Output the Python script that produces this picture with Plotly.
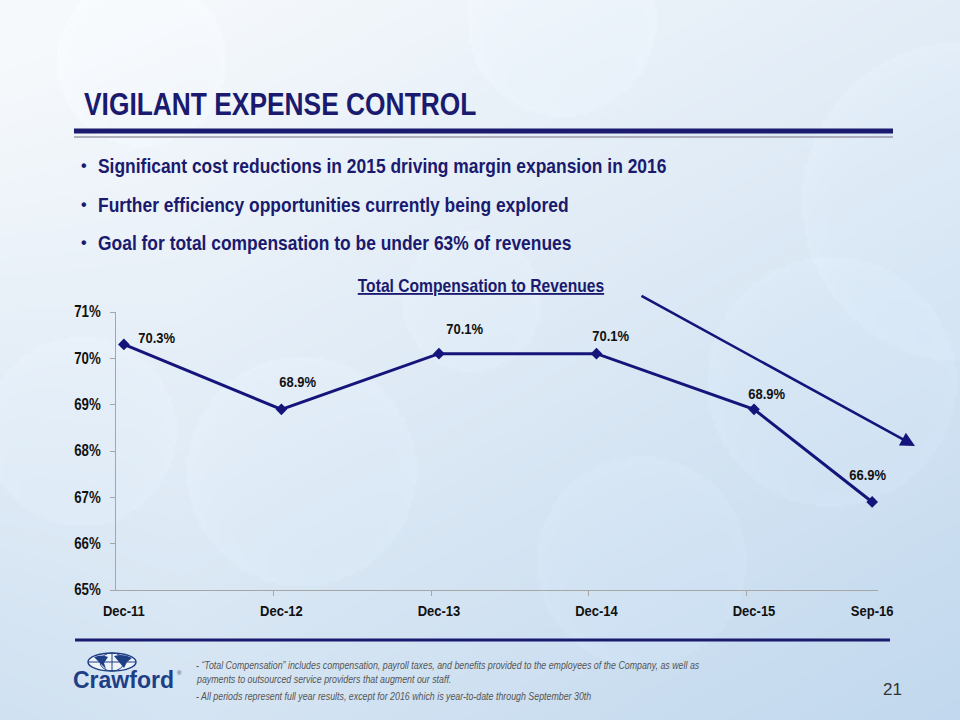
import base64, struct, zlib, math
import plotly.graph_objects as go

# ---------------- data ----------------
periods = ["Dec-11", "Dec-12", "Dec-13", "Dec-14", "Dec-15", "Sep-16"]
years_elapsed = [0, 1, 2, 3, 4, 4.75]          # position in years from Dec-11
comp_pct = [70.3, 68.9, 70.1, 70.1, 68.9, 66.9]
y_ticks = [65, 66, 67, 68, 69, 70, 71]
bullets = [
    "Significant cost reductions in 2015 driving margin expansion in 2016",
    "Further efficiency opportunities currently being explored",
    "Goal for total compensation to be under 63% of revenues",
]
footnotes = [
    "- \u201cTotal Compensation\u201d includes compensation, payroll taxes, and benefits provided to the employees of the Company, as well as",
    "payments to outsourced service providers that augment our staff.",
    "- All periods represent full year results, except for 2016 which is year-to-date through September 30th",
]

# ---------------- style ----------------
W, H = 960, 720
L, R, T, B = 116, 82, 312, 130
PW, PH = W - L - R, H - T - B
NAVY = "#1a1a6e"
LINE = "#14147a"
NARROW = "Liberation Sans Narrow, Arial Narrow, Liberation Sans, Arial, sans-serif"
ARIAL = "Liberation Sans, Arial, sans-serif"
label_offsets = [(33, 7), (17, 28), (26, 25), (15, 18), (13, 16), (-4, 27)]


def px(x):
    return (x - L) / PW


def py(y):
    return (H - B - y) / PH


# ---------------- background image (gradient + soft bubbles) ----------------
def make_bg(w=320, h=240):
    s = W / w
    bubbles = [(830, 380, 125), (300, 470, 115), (560, 20, 95), (140, 60, 85),
               (960, 200, 160), (640, 560, 105), (80, 430, 95), (470, 300, 70)]
    c0 = (246, 249, 252)
    c1 = (193, 216, 238)
    rows = []
    for j in range(h):
        row = bytearray()
        yy = j * s
        for i in range(w):
            xx = i * s
            t = 0.45 * (xx / W) + 0.62 * (yy / H) - 0.08
            t += 0.18 * max(0.0, 1 - xx / 180) * (yy / H)
            t = min(1.0, max(0.0, t))
            add = 0.0
            for (bx, by, br) in bubbles:
                d = math.hypot(xx - bx, yy - by)
                if d < br:
                    add += 1.5 + 2.0 * (d / br) ** 8
            col = [min(255, int(c0[k] + (c1[k] - c0[k]) * t + add)) for k in range(3)]
            row.extend(col)
        rows.append(bytes(row))
    raw = b"".join(b"\x00" + r for r in rows)

    def chunk(tag, data):
        return struct.pack(">I", len(data)) + tag + data + struct.pack(">I", zlib.crc32(tag + data) & 0xffffffff)

    png = (b"\x89PNG\r\n\x1a\n" + chunk(b"IHDR", struct.pack(">IIBBBBB", w, h, 8, 2, 0, 0, 0))
           + chunk(b"IDAT", zlib.compress(raw, 9)) + chunk(b"IEND", b""))
    return "data:image/png;base64," + base64.b64encode(png).decode()


fig = go.Figure()
fig.add_trace(go.Scatter(
    x=years_elapsed, y=comp_pct, mode="lines+markers",
    line=dict(color=LINE, width=3),
    marker=dict(symbol="diamond", size=9, color=LINE),
    hoverinfo="skip", showlegend=False,
))

annotations = []
for xv, yv, (dx, dy) in zip(years_elapsed, comp_pct, label_offsets):
    annotations.append(dict(x=xv, y=yv, xref="x", yref="y", text=f"<b>{yv:.1f}%</b>",
                            showarrow=False, xshift=dx, yshift=dy,
                            font=dict(family=NARROW, size=15.3, color="#111111")))

# title
annotations.append(dict(x=px(82), y=py(104), xref="paper", yref="paper", xanchor="left", yanchor="middle",
                        align="left", text="<b>VIGILANT EXPENSE CONTROL</b>", showarrow=False,
                        font=dict(family=NARROW, size=31, color=NAVY)))
# bullets
for txt, yy in zip(bullets, [165, 204, 242]):
    annotations.append(dict(x=px(79), y=py(yy), xref="paper", yref="paper", xanchor="left", yanchor="middle",
                            text="<b>\u2022</b>", showarrow=False,
                            font=dict(family=ARIAL, size=16, color=NAVY)))
    annotations.append(dict(x=px(96), y=py(yy), xref="paper", yref="paper", xanchor="left", yanchor="middle",
                            align="left", text=f"<b>{txt}</b>", showarrow=False,
                            font=dict(family=NARROW, size=20.5, color=NAVY)))
# chart title
annotations.append(dict(x=px(481), y=py(285), xref="paper", yref="paper", xanchor="center", yanchor="middle",
                        text="<b><u>Total Compensation to Revenues</u></b>", showarrow=False,
                        font=dict(family=NARROW, size=18.4, color=NAVY)))
# trend arrow
annotations.append(dict(x=px(915), y=py(446), xref="paper", yref="paper", ax=-275, ay=-151,
                        axref="pixel", ayref="pixel", text="", showarrow=True,
                        arrowhead=2, arrowsize=1.15, arrowwidth=2.5, arrowcolor=LINE))
# footer logo text
annotations.append(dict(x=px(71), y=py(680), xref="paper", yref="paper", xanchor="left", yanchor="middle",
                        text="<b>Crawford</b>", showarrow=False,
                        font=dict(family=ARIAL, size=23, color="#1e3f86")))
annotations.append(dict(x=px(175), y=py(673), xref="paper", yref="paper", xanchor="left", yanchor="middle",
                        text="\u00ae", showarrow=False, font=dict(family=ARIAL, size=6, color="#1e3f86")))
# footnotes
for txt, yy in zip(footnotes, [665, 679, 696]):
    annotations.append(dict(x=px(194), y=py(yy), xref="paper", yref="paper", xanchor="left", yanchor="middle",
                            align="left", text=f"<i>{txt}</i>", showarrow=False,
                            font=dict(family=NARROW, size=10.4, color="#555555")))
# page number
annotations.append(dict(x=px(892), y=py(689), xref="paper", yref="paper", xanchor="center", yanchor="middle",
                        text="21", showarrow=False, font=dict(family=ARIAL, size=17, color="#333333")))

shapes = [
    dict(type="line", xref="paper", yref="paper", x0=px(74), x1=px(893), y0=py(131), y1=py(131),
         line=dict(color=NAVY, width=5)),
    dict(type="line", xref="paper", yref="paper", x0=px(74), x1=px(893), y0=py(137), y1=py(137),
         line=dict(color="#9a9aa6", width=1.5)),
    dict(type="line", xref="paper", yref="paper", x0=px(75), x1=px(890), y0=py(640), y1=py(640),
         line=dict(color=NAVY, width=3)),
    # globe
    dict(type="circle", xref="paper", yref="paper", x0=px(88), x1=px(136), y0=py(653), y1=py(671),
         line=dict(color="#1e3f86", width=1.5), fillcolor="rgba(255,255,255,0.6)"),
    dict(type="circle", xref="paper", yref="paper", x0=px(100), x1=px(124), y0=py(653), y1=py(671),
         line=dict(color="#1e3f86", width=1)),
    dict(type="line", xref="paper", yref="paper", x0=px(88), x1=px(136), y0=py(662), y1=py(662),
         line=dict(color="#1e3f86", width=1)),
    dict(type="line", xref="paper", yref="paper", x0=px(112), x1=px(112), y0=py(653), y1=py(671),
         line=dict(color="#1e3f86", width=1)),
    dict(type="path", xref="paper", yref="paper",
         path=f"M {px(94)} {py(657)} Q {px(102)} {py(654)} {px(108)} {py(657)} L {px(104)} {py(663)} L {px(106)} {py(669)} L {px(101)} {py(664)} Z",
         line=dict(width=0), fillcolor="#1e3f86"),
    dict(type="path", xref="paper", yref="paper",
         path=f"M {px(114)} {py(656)} Q {px(124)} {py(653)} {px(132)} {py(658)} L {px(127)} {py(662)} L {px(124)} {py(668)} L {px(119)} {py(662)} Z",
         line=dict(width=0), fillcolor="#1e3f86"),
]

fig.update_layout(
    width=W, height=H,
    margin=dict(l=L, r=R, t=T, b=B),
    paper_bgcolor="#e3eef7", plot_bgcolor="rgba(0,0,0,0)",
    images=[dict(source=make_bg(), xref="paper", yref="paper", x=px(0), y=py(0),
                 sizex=W / PW, sizey=H / PH, xanchor="left", yanchor="top",
                 sizing="stretch", layer="below")],
    annotations=annotations, shapes=shapes,
    xaxis=dict(range=[-0.05, 4.787], tickmode="array", tickvals=years_elapsed,
               ticktext=[f"<b>{p}</b>" for p in periods],
               ticks="", showgrid=False, zeroline=False, showline=True, linecolor="#a6a6a6", linewidth=1.2,
               tickfont=dict(family=NARROW, size=15.3, color="#111111"), ticklabelstandoff=7,
               minor=dict(tickmode="array", tickvals=[0.95, 1.95, 2.95, 3.95], ticks="outside",
                          ticklen=5, tickcolor="#a6a6a6", tickwidth=1, showgrid=False),
               fixedrange=True),
    yaxis=dict(range=[65, 71], tickmode="array", tickvals=y_ticks, ticktext=[f"<b>{v}%</b>" for v in y_ticks],
               ticks="outside", ticklen=5, tickcolor="#a6a6a6", showgrid=False, zeroline=False,
               showline=True, linecolor="#a6a6a6", linewidth=1.2, ticklabelstandoff=6,
               tickfont=dict(family=NARROW, size=15.6, color="#111111"), fixedrange=True),
    showlegend=False,
)

# remove page margin and emulate a narrow typeface by condensing the glyphs of "Narrow" texts
post_js = """
document.body.style.margin='0';
document.body.style.overflow='hidden';
var gd = document.getElementById('{plot_id}');
gd.querySelectorAll('text').forEach(function(t){
  var ff = (t.style && t.style.fontFamily) || t.getAttribute('font-family') || '';
  if (ff.indexOf('Narrow') >= 0) {
    var len = t.getComputedTextLength();
    if (len > 0) { t.setAttribute('textLength', len * 0.85); t.setAttribute('lengthAdjust', 'spacingAndGlyphs'); }
  }
});
"""

fig.write_html("out.html", post_script=post_js, config={"displayModeBar": False})
